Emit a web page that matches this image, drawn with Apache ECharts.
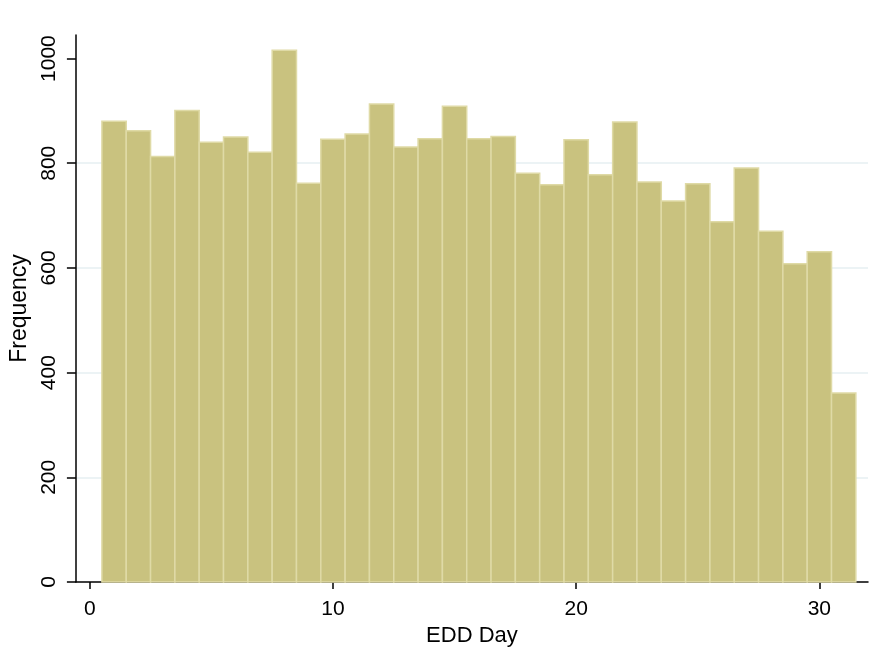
<!DOCTYPE html>
<html>
<head>
<meta charset="utf-8">
<title>EDD Day histogram</title>
<script src="https://cdn.jsdelivr.net/npm/echarts@6/dist/echarts.min.js"></script>
<style>
  html, body { margin: 0; padding: 0; background: #fff; }
  #chart { width: 880px; height: 666px; }
</style>
</head>
<body>
<div id="chart"></div>
<script>
// EDD day (1..31) and how often it occurs
var days = [1, 2, 3, 4, 5, 6, 7, 8, 9, 10, 11, 12, 13, 14, 15, 16,
            17, 18, 19, 20, 21, 22, 23, 24, 25, 26, 27, 28, 29, 30, 31];
var counts = [880, 862, 813, 901, 840, 850, 821, 1016, 762, 846, 856, 913, 831, 847, 909, 847,
              851, 781, 759, 845, 778, 879, 764, 728, 761, 688, 791, 670, 608, 631, 361];
var xTicks = [0, 10, 20, 30];
var yTicks = [0, 200, 400, 600, 800, 1000];

var font = 'Liberation Sans, Arial, sans-serif';

var histData = days.map(function (d, i) { return [d, counts[i]]; });

var chart = echarts.init(document.getElementById('chart'), null, { renderer: 'canvas' });

var option = {
  backgroundColor: '#ffffff',
  animation: false,
  grid: { left: 74, right: 12, top: 35, bottom: 84 },
  xAxis: {
    type: 'value',
    min: -0.57,
    max: 32,
    name: 'EDD Day',
    nameLocation: 'middle',
    nameGap: 38,
    nameTextStyle: { fontFamily: font, fontSize: 22, color: '#000' },
    axisLine: { show: true, onZero: false, lineStyle: { color: '#000', width: 1.5 } },
    axisTick: { show: true, length: 7, customValues: xTicks, lineStyle: { color: '#000', width: 1.5 } },
    axisLabel: { customValues: xTicks, margin: 17, fontFamily: font, fontSize: 21, color: '#000' },
    splitLine: { show: false }
  },
  yAxis: {
    type: 'value',
    min: 0,
    max: 1045,
    interval: 200,
    name: 'Frequency',
    nameLocation: 'middle',
    nameRotate: 90,
    nameGap: 38,
    nameTextStyle: { fontFamily: font, fontSize: 23, color: '#000' },
    axisLine: { show: true, onZero: false, lineStyle: { color: '#000', width: 1.5 } },
    axisTick: { show: true, length: 9, customValues: yTicks, lineStyle: { color: '#000', width: 1.5 } },
    axisLabel: {
      customValues: yTicks,
      rotate: 90,
      margin: 16,
      fontFamily: font,
      fontSize: 21,
      color: '#000',
      formatter: function (v) { return String(v); }
    },
    splitLine: {
      show: true,
      showMinLine: false,
      showMaxLine: false,
      lineStyle: { color: '#e6eff2', width: 1.5 }
    }
  },
  series: [{
    type: 'custom',
    data: histData,
    encode: { x: 0, y: 1 },
    renderItem: function (params, api) {
      var d = api.value(0);
      var c = api.value(1);
      var p0 = api.coord([d - 0.5, c]);
      var p1 = api.coord([d + 0.5, 0]);
      return {
        type: 'rect',
        shape: { x: p0[0], y: p0[1], width: p1[0] - p0[0], height: p1[1] - p0[1] },
        style: { fill: '#c9c27f', stroke: '#dfdaa6', lineWidth: 1.5 }
      };
    }
  }]
};

chart.setOption(option);
</script>
</body>
</html>
